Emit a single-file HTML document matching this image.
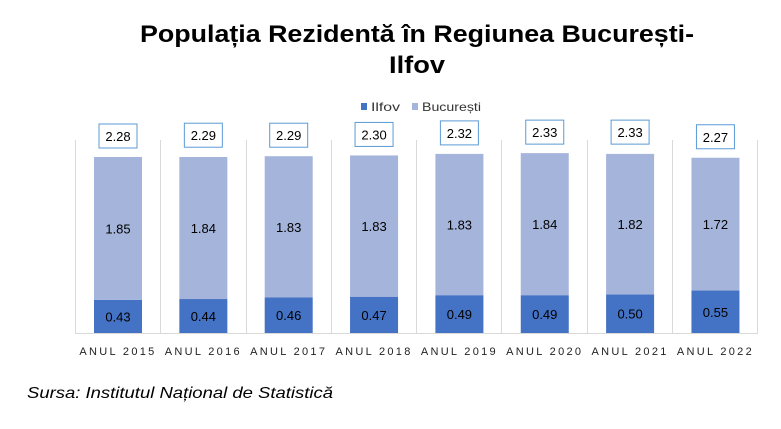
<!DOCTYPE html>
<html><head><meta charset="utf-8"><style>
html,body{margin:0;padding:0;background:#fff;}
svg{display:block;font-family:"Liberation Sans",sans-serif;}
</style></head><body>
<svg width="781" height="429" viewBox="0 0 781 429">
<text x="417" y="42" text-anchor="middle" font-size="24" font-weight="bold" textLength="554" lengthAdjust="spacingAndGlyphs" fill="#000">Populația Rezidentă în Regiunea București-</text>
<text x="417" y="73" text-anchor="middle" font-size="24" font-weight="bold" textLength="56" lengthAdjust="spacingAndGlyphs" fill="#000">Ilfov</text>
<rect x="361" y="103" width="6" height="7" fill="#4472c4"/>
<text x="371" y="111" font-size="12" fill="#333" textLength="29" lengthAdjust="spacingAndGlyphs">Ilfov</text>
<rect x="412" y="103" width="6" height="7" fill="#a5b4da"/>
<text x="422" y="111" font-size="12" fill="#333" textLength="59" lengthAdjust="spacingAndGlyphs">București</text>
<g stroke="#d9d9d9" stroke-width="1">
<line x1="75.5" y1="140" x2="75.5" y2="333"/><line x1="160.5" y1="140" x2="160.5" y2="333"/>
<line x1="246.5" y1="140" x2="246.5" y2="333"/><line x1="331.5" y1="140" x2="331.5" y2="333"/>
<line x1="416.5" y1="140" x2="416.5" y2="333"/><line x1="501.5" y1="140" x2="501.5" y2="333"/>
<line x1="587.5" y1="140" x2="587.5" y2="333"/><line x1="672.5" y1="140" x2="672.5" y2="333"/>
<line x1="757.5" y1="140" x2="757.5" y2="333"/>
<line x1="75" y1="333.5" x2="758" y2="333.5"/>
</g>
<g id="bars" font-size="13" text-anchor="middle" fill="#000"></g>
<text x="27" y="398" font-size="16" font-style="italic" fill="#000" textLength="306" lengthAdjust="spacingAndGlyphs">Sursa: Institutul Național de Statistică</text>
</svg>
<script>
var d=[["2015",0.43,1.85,2.28],["2016",0.44,1.84,2.29],["2017",0.46,1.83,2.29],["2018",0.47,1.83,2.30],["2019",0.49,1.83,2.32],["2020",0.49,1.84,2.33],["2021",0.50,1.82,2.33],["2022",0.55,1.72,2.27]];
var g=document.getElementById('bars'),s="",k=77.2,b=333;
d.forEach(function(r,i){
var c=118+i*85.35,x=c-24,hi=r[1]*k,hb=r[2]*k;
s+='<rect x="'+x+'" y="'+(b-hi)+'" width="48" height="'+hi+'" fill="#4472c4"/>';
s+='<rect x="'+x+'" y="'+(b-hi-hb)+'" width="48" height="'+hb+'" fill="#a5b4da"/>';
s+='<text x="'+c+'" y="'+(b-hi/2+5)+'">'+r[1].toFixed(2)+'</text>';
s+='<text x="'+c+'" y="'+(b-hi-hb/2+5)+'">'+r[2].toFixed(2)+'</text>';
var ty=b-r[3]*k-33;
s+='<rect x="'+(c-19)+'" y="'+ty+'" width="38" height="24" fill="#fff" stroke="#5b9bd5" stroke-width="1"/>';
s+='<text x="'+c+'" y="'+(ty+17)+'">'+r[3].toFixed(2)+'</text>';
s+='<text x="'+c+'" y="355" font-size="11" letter-spacing="2.3" fill="#222">ANUL '+r[0]+'</text>';
});
g.innerHTML=s;
</script>
</body></html>
